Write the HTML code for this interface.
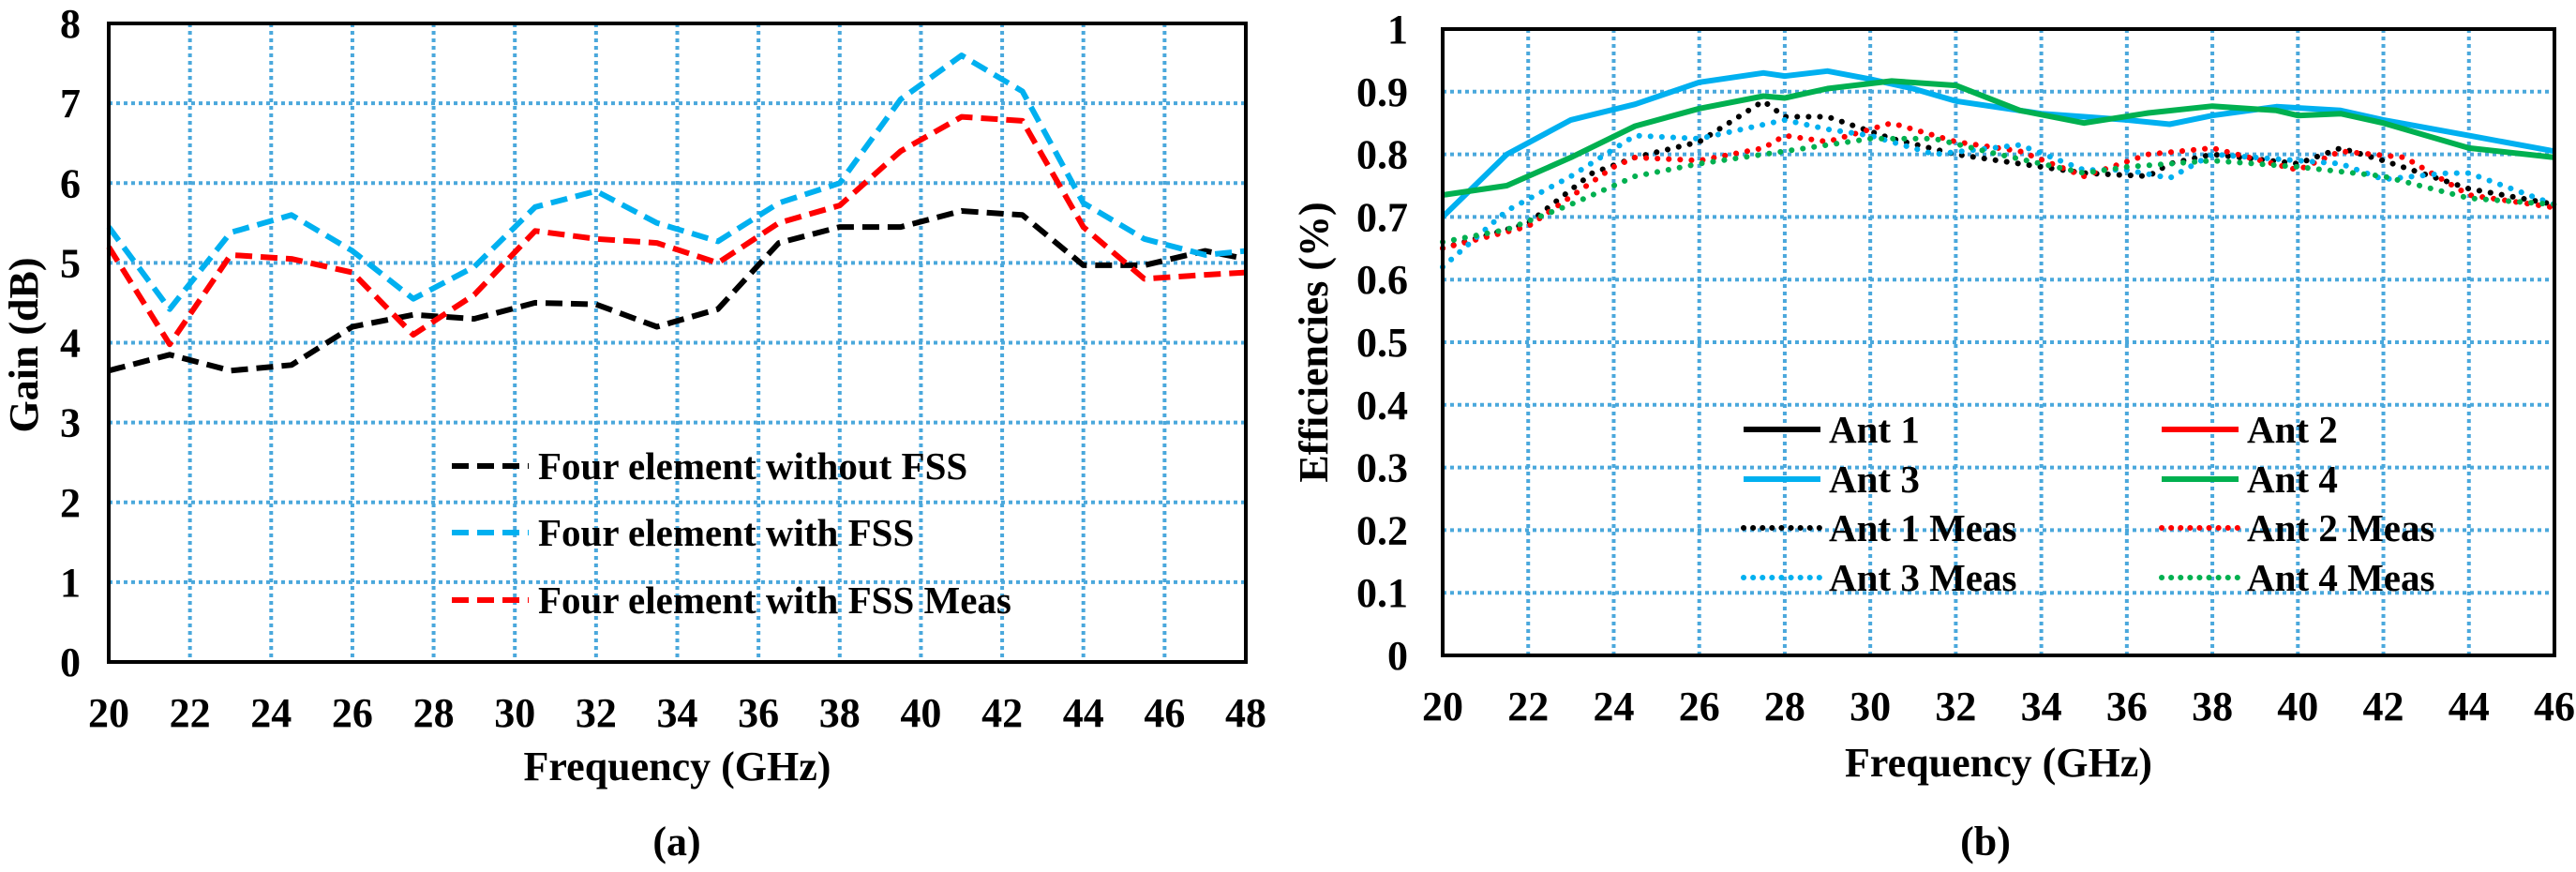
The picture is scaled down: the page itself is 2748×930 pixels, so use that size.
<!DOCTYPE html>
<html><head><meta charset="utf-8"><style>
html,body{margin:0;padding:0;background:#fff;}
text{font-family:"Liberation Serif","DejaVu Serif",serif;font-weight:bold;fill:#000;}
</style></head><body>
<svg id="s" width="2748" height="925" viewBox="0 0 2748 925" xmlns="http://www.w3.org/2000/svg" font-family="Liberation Serif, DejaVu Serif, serif" font-weight="bold"></svg>
<script>
// ---- Chart (a) data ----
const aFreq = [20,21.5,23,24.5,26,27.5,29,30.5,32,33.5,35,36.5,38,39.5,41,42.5,44,45.5,47,48];
const aNoFSS = [3.65,3.85,3.65,3.72,4.2,4.35,4.3,4.5,4.48,4.2,4.42,5.25,5.45,5.45,5.65,5.6,4.97,4.97,5.15,5.05];
const aFSS = [5.45,4.42,5.38,5.6,5.15,4.55,4.95,5.7,5.9,5.5,5.27,5.75,6.0,7.05,7.6,7.15,5.75,5.3,5.1,5.15];
const aMeas = [5.2,3.98,5.1,5.05,4.88,4.1,4.6,5.4,5.3,5.25,5.0,5.5,5.72,6.4,6.83,6.78,5.45,4.8,4.85,4.88];
const aXTicks = [20,22,24,26,28,30,32,34,36,38,40,42,44,46,48];
const aYTicks = [0,1,2,3,4,5,6,7,8];
// ---- Chart (b) data ----
const b3x = [20,21.5,23,24.5,26,27.5,28,29,30,31,32,33,34,35,36,37,38,39.5,41,42,44,46];
const b3y = [0.70,0.80,0.855,0.88,0.915,0.93,0.925,0.933,0.92,0.905,0.885,0.875,0.865,0.86,0.855,0.848,0.862,0.876,0.87,0.855,0.83,0.805];
const b4x = [20,21.5,23,24.5,26,27.5,28,29,30.5,32,33.5,35,36.5,38,39.5,40,41,42,44,46];
const b4y = [0.735,0.75,0.795,0.845,0.873,0.893,0.89,0.905,0.917,0.91,0.87,0.85,0.866,0.877,0.87,0.862,0.865,0.85,0.81,0.795];
const b1mx = [20,22,23.5,24.5,26,27.5,28,29,30.5,32,34,35,36.5,37,38,40,41,42,44,46];
const b1my = [0.65,0.69,0.77,0.795,0.82,0.885,0.86,0.86,0.825,0.80,0.78,0.77,0.765,0.785,0.80,0.785,0.81,0.79,0.745,0.72];
const b2mx = [20,22,24,24.5,26,27.5,28,29,30.5,32,33.5,35,36.5,38,40,41,42.5,44,46];
const b2my = [0.65,0.685,0.78,0.795,0.79,0.81,0.83,0.82,0.85,0.82,0.805,0.765,0.80,0.81,0.775,0.805,0.795,0.735,0.715];
const b3mx = [20,21.5,23,24.5,26,28,29,30,31.5,33.5,35,36,37,38,40,41,42,43.5,44,46];
const b3my = [0.62,0.71,0.765,0.83,0.825,0.855,0.84,0.83,0.80,0.815,0.775,0.775,0.762,0.80,0.79,0.785,0.76,0.77,0.77,0.72];
const b4mx = [20,21.5,23,24.5,26,28,29,30,31.5,33,35,36,38,39,40,42,44,46];
const b4my = [0.66,0.68,0.72,0.765,0.785,0.805,0.815,0.825,0.825,0.80,0.77,0.78,0.79,0.785,0.78,0.765,0.73,0.72];
const bXTicks = [20,22,24,26,28,30,32,34,36,38,40,42,44,46];
const bYTicks = [0,0.1,0.2,0.3,0.4,0.5,0.6,0.7,0.8,0.9,1];

const NS="http://www.w3.org/2000/svg";
const svg=document.getElementById('s');
const FF="Liberation Serif, DejaVu Serif, serif";
function mk(tag,attrs,parent){const e=document.createElementNS(NS,tag);for(const k in attrs)e.setAttribute(k,attrs[k]);if(tag==='text'){e.setAttribute('font-family',FF);e.setAttribute('font-weight','bold');}(parent||svg).appendChild(e);return e;}
const GRID="#4aa8dc";

function chart(cfg){
  const g=mk('g',{});
  
  
  const X=v=>cfg.L+(v-cfg.xmin)/(cfg.xmax-cfg.xmin)*(cfg.R-cfg.L);
  const Y=v=>cfg.B-(v-cfg.ymin)/(cfg.ymax-cfg.ymin)*(cfg.B-cfg.T);
  cfg.xt.forEach(v=>{
    if(v!==cfg.xmin&&v!==cfg.xmax){const l=mk('line',{x1:X(v),x2:X(v),y1:cfg.T,y2:cfg.B,stroke:GRID,'stroke-width':4,'stroke-dasharray':'4 4'},g);
    
    }
    const t=mk('text',{x:X(v),y:cfg.xty,'font-size':44,'text-anchor':'middle'},g);t.textContent=v;
    
    
  });
  cfg.yt.forEach(v=>{
    if(v!==cfg.ymin&&v!==cfg.ymax){const l=mk('line',{x1:cfg.L,x2:cfg.R,y1:Y(v),y2:Y(v),stroke:GRID,'stroke-width':4,'stroke-dasharray':'4 4'},g);
    
    }
    const t=mk('text',{x:cfg.ytx,y:Y(v)+15,'font-size':44,'text-anchor':'end'},g);t.textContent=cfg.yfmt(v);
    
    
  });
  cfg.series.forEach(s=>{
    const d=s.x.map((v,i)=>(i?'L':'M')+X(v).toFixed(1)+' '+Y(s.y[i]).toFixed(1)).join(' ');
    const a={d:d,fill:'none',stroke:s.c,'stroke-width':s.w,'stroke-linejoin':'round'};
    if(s.dash)a['stroke-dasharray']=s.dash;
    if(s.cap)a['stroke-linecap']=s.cap;
    const p=mk('path',a,g);
    
    
  });
  const r=mk('rect',{x:cfg.L,y:cfg.T,width:cfg.R-cfg.L,height:cfg.B-cfg.T,fill:'none',stroke:'#000','stroke-width':4},g);
  
  
  const xt=mk('text',{x:(cfg.L+cfg.R)/2,y:cfg.xtitY,'font-size':44,'text-anchor':'middle'},g);xt.textContent='Frequency (GHz)';
  
  
  const yt=mk('text',{x:0,y:0,'font-size':44,'text-anchor':'middle',transform:`translate(${cfg.ytitX},${cfg.ytitY}) rotate(-90)`},g);yt.textContent=cfg.ytitle;
  
  
  const cap=mk('text',{x:cfg.capX,y:912,'font-size':44,'text-anchor':'middle'},g);cap.textContent=cfg.cap;
  
  
  return g;
}
function legend(g,x1,x2,tx,y,c,w,dash,cap,label){
  const a={x1:x1,x2:x2,y1:y,y2:y,stroke:c,'stroke-width':w};
  if(dash)a['stroke-dasharray']=dash;
  if(cap)a['stroke-linecap']=cap;
  const l=mk('line',a,g);
  
  
  const t=mk('text',{x:tx,y:y+14,'font-size':41},g);t.textContent=label;
  
  
}
const ga=chart({name:'gain-chart',L:116,R:1329,T:25,B:706,xmin:20,xmax:48,ymin:0,ymax:8,xt:aXTicks,yt:aYTicks,xty:775,ytx:86,yfmt:v=>v,
  series:[{x:aFreq,y:aNoFSS,c:'#000',w:6,dash:'18 9',n:'series-without-fss'},
          {x:aFreq,y:aFSS,c:'#00b0f0',w:6,dash:'18 9',n:'series-with-fss'},
          {x:aFreq,y:aMeas,c:'#ff0000',w:6,dash:'18 9',n:'series-with-fss-meas'}],
  xtitY:832,ytitX:40,ytitY:368,ytitle:'Gain (dB)',capX:722,cap:'(a)'});
legend(ga,482,564,574,497,'#000',6,'18 9',null,'Four element without FSS');
legend(ga,482,564,574,568,'#00b0f0',6,'18 9',null,'Four element with FSS');
legend(ga,482,564,574,640,'#ff0000',6,'18 9',null,'Four element with FSS Meas');

const gb=chart({name:'efficiency-chart',L:1539,R:2725,T:31,B:699,xmin:20,xmax:46,ymin:0,ymax:1,xt:bXTicks,yt:bYTicks,xty:768,ytx:1502,yfmt:v=>String(Math.round(v*10)/10),
  series:[{x:b1mx,y:b1my,c:'#000',w:6,dash:'0.1 12',cap:'round',n:'series-ant1-meas'},
          {x:b2mx,y:b2my,c:'#ff0000',w:6,dash:'0.1 12',cap:'round',n:'series-ant2-meas'},
          {x:b3mx,y:b3my,c:'#00b0f0',w:6,dash:'0.1 12',cap:'round',n:'series-ant3-meas'},
          {x:b4mx,y:b4my,c:'#00b050',w:6,dash:'0.1 12',cap:'round',n:'series-ant4-meas'},
          {x:b3x,y:b3y,c:'#00b0f0',w:6,n:'series-ant3'},
          {x:b4x,y:b4y,c:'#00b050',w:6,n:'series-ant4'}],
  xtitY:828,ytitX:1416,ytitY:365,ytitle:'Efficiencies (%)',capX:2118,cap:'(b)'});
legend(gb,1860,1942,1951,458,'#000',6,null,null,'Ant 1');
legend(gb,2306,2388,2397,458,'#ff0000',6,null,null,'Ant 2');
legend(gb,1860,1942,1951,511,'#00b0f0',6,null,null,'Ant 3');
legend(gb,2306,2388,2397,511,'#00b050',6,null,null,'Ant 4');
legend(gb,1860,1942,1951,563,'#000',6,'0.1 10','round','Ant 1 Meas');
legend(gb,2306,2388,2397,563,'#ff0000',6,'0.1 10','round','Ant 2 Meas');
legend(gb,1860,1942,1951,616,'#00b0f0',6,'0.1 10','round','Ant 3 Meas');
legend(gb,2306,2388,2397,616,'#00b050',6,'0.1 10','round','Ant 4 Meas');
</script>
</body></html>
